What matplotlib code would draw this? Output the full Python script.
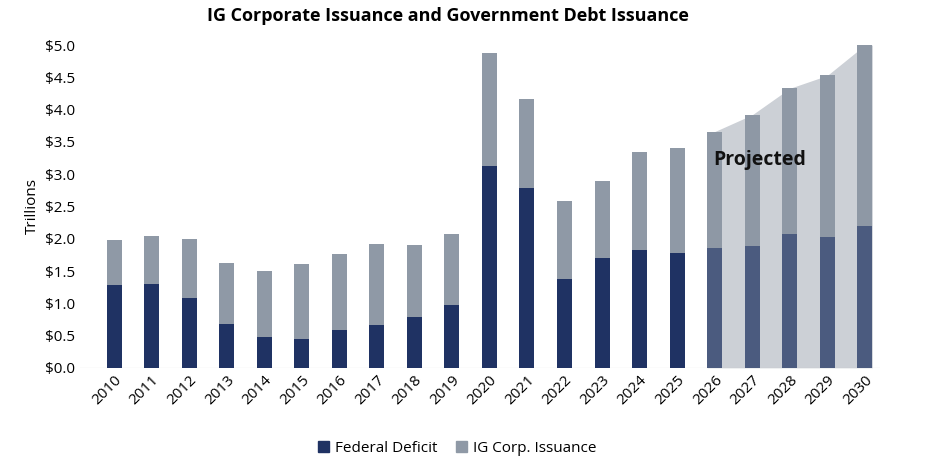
import matplotlib
matplotlib.use("Agg")
import matplotlib.pyplot as plt
import numpy as np

plt.rcParams['font.family'] = ['Open Sans', 'DejaVu Sans']

years = list(range(2010, 2031))
deficit = [1.29, 1.30, 1.08, 0.68, 0.48, 0.44, 0.59, 0.67, 0.78, 0.98, 3.13, 2.78,
           1.38, 1.70, 1.83, 1.78, 1.85, 1.88, 2.08, 2.02, 2.20]
total = [1.98, 2.04, 1.99, 1.62, 1.50, 1.61, 1.77, 1.92, 1.90, 2.07, 4.88, 4.16,
         2.59, 2.90, 3.34, 3.40, 3.66, 3.92, 4.33, 4.53, 5.00]
ig = [t - d for t, d in zip(total, deficit)]
proj_start = 2026

fig = plt.figure(figsize=(9.33, 4.65), dpi=100)
ax = fig.add_axes([0.086, 0.209, 0.857, 0.694])
x = np.arange(len(years))
w = 0.4
proj = np.array([y >= proj_start for y in years])

# shaded projection area
px = x[proj]
pt = np.array(total)[proj]
xs = np.concatenate([[px[0] - w/2], px, [px[-1] + w/2]])
ys = np.concatenate([[pt[0]], pt, [pt[-1]]])
ax.fill_between(xs, 0, ys, color='#ccd0d6', zorder=0, linewidth=0)

dcol = ['#4b5b7f' if p else '#1f3263' for p in proj]
icol = ['#8e98a5' if p else '#8f99a6' for p in proj]
ax.bar(x, deficit, w, color=dcol, zorder=2, label='Federal Deficit')
ax.bar(x, ig, w, bottom=deficit, color=icol, zorder=2, label='IG Corp. Issuance')

ax.text(x[years.index(2027)] + 0.2, 3.22, 'Projected', fontsize=14, fontweight='bold',
        ha='center', va='center', color='#111111', zorder=3)

ax.set_ylim(0, 5.0)
ax.set_xlim(-0.9, len(years) - 0.6)
ax.set_yticks(np.arange(0, 5.01, 0.5))
ax.set_yticklabels([f'${v:.1f}' for v in np.arange(0, 5.01, 0.5)], fontsize=11)
ax.set_xticks(x)
ax.set_xticklabels([str(y) for y in years], rotation=45, fontsize=11, ha='right',
                   rotation_mode='anchor')
ax.set_ylabel('Trillions', fontsize=11)
ax.tick_params(length=0)
for s in ax.spines.values():
    s.set_visible(False)
ax.axhline(0, color='#bbbbbb', linewidth=0.8, zorder=1)

fig.suptitle('IG Corporate Issuance and Government Debt Issuance', fontsize=13,
             fontweight='bold', x=0.48, y=0.985)
h, l = ax.get_legend_handles_labels()
from matplotlib.patches import Patch
fig.legend([Patch(color='#1f3263'), Patch(color='#8f99a6')], l, loc='lower center',
           bbox_to_anchor=(0.49, -0.01), ncol=2, frameon=False, fontsize=11,
           handlelength=0.7, handleheight=0.7, columnspacing=1.2, handletextpad=0.4)
fig.savefig('out.png', dpi=100)
